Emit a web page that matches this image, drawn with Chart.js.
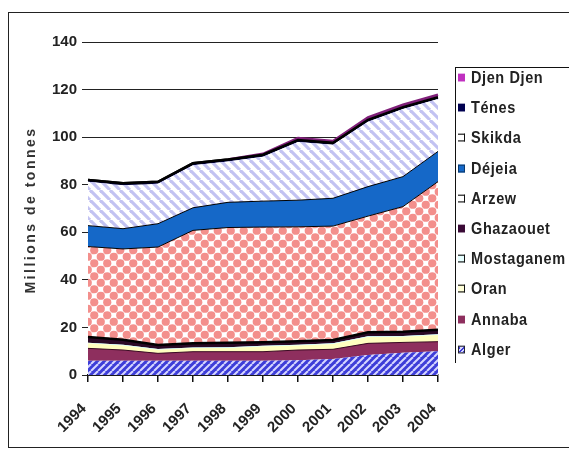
<!DOCTYPE html>
<html>
<head>
<meta charset="utf-8">
<script src="https://cdn.jsdelivr.net/npm/chart.js@4/dist/chart.umd.min.js"></script>
<style>
  html, body { margin:0; padding:0; background:#fff; }
  #wrap { position:relative; width:569px; height:451px; overflow:hidden; background:#fff; }
  #c { position:absolute; left:0; top:0; }
  #frame { position:absolute; left:8px; top:12px; width:700px; height:436px; border:1.5px solid #222; box-sizing:border-box; pointer-events:none; }
  #legend { position:absolute; left:455px; top:67px; width:200px; height:296px; border-top:1.5px solid #111; border-left:1.5px solid #111; box-sizing:border-box; }
  .row { position:absolute; left:0; height:20px; line-height:20px; font-family:'Liberation Sans',Arial,sans-serif; font-weight:bold; font-size:14.5px; letter-spacing:0.6px; color:#222; white-space:nowrap; transform-origin:0 50%; transform:scaleY(1.12); }
  .mk { position:absolute; left:2px; top:7px; width:7px; height:7px; box-sizing:border-box; }
  .tx { position:absolute; left:15px; top:0; }
  #ytitle { position:absolute; left:30px; top:210px; transform:translate(-50%,-50%) rotate(-90deg); font-family:'Liberation Sans',Arial,sans-serif; font-weight:bold; font-size:14px; letter-spacing:2.5px; color:#333; white-space:nowrap; }
</style>
</head>
<body>
<div id="wrap">
  <canvas id="c" width="569" height="451"></canvas>
  <div id="frame"></div>
  <div id="ytitle">Millions de tonnes</div>
  <div id="legend"></div>
</div>
<script>
// ---- data (millions de tonnes) ----
const years = ['1994','1995','1996','1997','1998','1999','2000','2001','2002','2003','2004'];
const alger      = [6, 6, 6, 6, 6, 6, 6.2, 6.7, 8.4, 9.4, 10];
const annaba     = [5.2, 4.5, 3.1, 3.8, 3.8, 3.8, 4.3, 4.1, 4.9, 4.3, 4.0];
const oran       = [2.1, 1.9, 1.5, 1.5, 1.6, 2.2, 1.9, 2.2, 2.7, 2.4, 2.8];
const mostaganem = [0.3, 0.3, 0.3, 0.3, 0.3, 0.3, 0.3, 0.3, 0.3, 0.3, 0.3];
const ghazaouet  = [2.4, 2.1, 1.7, 1.8, 1.9, 1.5, 1.5, 1.4, 1.7, 1.8, 1.9];
const arzew      = [38, 38.2, 41.2, 47.4, 48.4, 48.4, 48.1, 47.9, 48.8, 52.6, 62.3];
const dejeia     = [8.8, 8.5, 9.8, 9.5, 10.6, 10.9, 11.2, 11.7, 12.4, 12.6, 12.7];
const skikda     = [18.4, 18.3, 16.8, 17.9, 17.2, 18.7, 24.5, 22.5, 27.3, 28.4, 22.0];
const tenes      = [0.8, 0.8, 0.8, 0.8, 0.8, 0.8, 0.8, 0.8, 0.8, 0.8, 0.8];
const djenDjen   = [0, 0, 0, 0, 0, 0.4, 0.8, 0.8, 1.0, 1.0, 1.0];
const yTicks     = [0, 20, 40, 60, 80, 100, 120, 140];
const yTitle     = 'Millions de tonnes';

// ---- patterns ----
function mkPattern(size, draw) {
  const c = document.createElement('canvas');
  c.width = size; c.height = size;
  const g = c.getContext('2d');
  draw(g, size);
  return document.getElementById('c').getContext('2d').createPattern(c, 'repeat');
}
const algerPat = mkPattern(7, (g, s) => {
  g.fillStyle = '#3d3dd8'; g.fillRect(0, 0, s, s);
  g.strokeStyle = '#d6d6ff'; g.lineWidth = 2;
  for (const o of [-s, 0, s]) { g.beginPath(); g.moveTo(o, s); g.lineTo(o + s, 0); g.stroke(); }
});
const skikdaPat = mkPattern(10, (g, s) => {
  g.fillStyle = '#ffffff'; g.fillRect(0, 0, s, s);
  g.strokeStyle = '#c2c2f2'; g.lineWidth = 3.2;
  for (const o of [-s, 0, s]) { g.beginPath(); g.moveTo(o, 0); g.lineTo(o + s, s); g.stroke(); }
});
const arzewPat = mkPattern(13, (g, s) => {
  g.fillStyle = '#ffffff'; g.fillRect(0, 0, s, s);
  g.fillStyle = '#f38f8c';
  const r = 4.1;
  const h = s / 4, k = 3 * s / 4;
  for (const [x, y] of [[h, h], [k, k], [h + s, h], [h, h + s], [k - s, k], [k, k - s], [k - s, k - s], [h + s, h + s]]) {
    g.beginPath(); g.arc(x, y, r, 0, Math.PI * 2); g.fill();
  }
});

const series = [
  { label: 'Alger',      data: alger,      bg: algerPat,  bc: 'transparent', bw: 0 },
  { label: 'Annaba',     data: annaba,     bg: '#8e2f5e', bc: '#3a0a22', bw: 1 },
  { label: 'Oran',       data: oran,       bg: '#ffffc0', bc: 'transparent', bw: 0 },
  { label: 'Mostaganem', data: mostaganem, bg: '#ccffff', bc: 'transparent', bw: 0 },
  { label: 'Ghazaouet',  data: ghazaouet,  bg: '#2a0a26', bc: '#000000', bw: 2.5 },
  { label: 'Arzew',      data: arzew,      bg: arzewPat,  bc: '#000000', bw: 1 },
  { label: 'Déjeia',     data: dejeia,     bg: '#1568c8', bc: '#000000', bw: 1 },
  { label: 'Skikda',     data: skikda,     bg: skikdaPat, bc: 'transparent', bw: 0 },
  { label: 'Ténes',      data: tenes,      bg: '#000040', bc: '#000000', bw: 2.5 },
  { label: 'Djen Djen',  data: djenDjen,   bg: '#c030c0', bc: '#80207a', bw: 2.5 }
];

const datasets = series.map((s, i) => {
  const d = {
    label: s.label, data: s.data, backgroundColor: s.bg, borderColor: s.bc,
    borderWidth: s.bw || 0.01, fill: i === 0 ? 'origin' : '-1',
    pointRadius: 0, pointHoverRadius: 0, tension: 0
  };
  if (s.label === 'Djen Djen') {
    d.segment = { borderColor: ctx => (djenDjen[ctx.p0DataIndex] === 0 && djenDjen[ctx.p1DataIndex] === 0) ? '#111111' : '#80207a' };
  }
  return d;
});

const FONT = "'Liberation Sans',Arial,sans-serif";

new Chart(document.getElementById('c'), {
  type: 'line',
  data: { labels: years, datasets },
  options: {
    responsive: false, animation: false, events: [],
    layout: { padding: { left: 16, top: 42, right: 131, bottom: 0 } },
    plugins: { legend: { display: false }, tooltip: { enabled: false } },
    scales: {
      x: {
        type: 'category', offset: false,
        grid: { drawOnChartArea: false, drawTicks: true, tickLength: 7, color: '#111', lineWidth: 1.5 },
        border: { display: true, color: '#111', width: 1.5 },
        ticks: { autoSkip: false, minRotation: 45, maxRotation: 45, padding: 18, labelOffset: -4,
                 color: '#222', font: { family: FONT, size: 15, weight: 'bold' } },
        afterFit: s => { s.height = 451 - 375; }
      },
      y: {
        stacked: true, min: 0, max: 140,
        afterBuildTicks: s => { s.ticks = yTicks.map(v => ({ value: v })); },
        grid: { color: '#222', lineWidth: 1, tickLength: 6, drawTicks: true },
        border: { display: false },
        ticks: { padding: 5, color: '#222', font: { family: FONT, size: 15, weight: 'bold' } },
        afterFit: s => { s.width = 88 - 16; }
      }
    }
  }
});

// ---- legend (reverse of stacking order) ----
const legendMarks = {
  'Djen Djen': 'background:#c030c0;',
  'Ténes': 'background:#000050;',
  'Skikda': 'background:#fff;border:1.5px solid #111;border-left:none;',
  'Déjeia': 'background:#1568c8;border:1px solid #0a3a70;',
  'Arzew': 'background:#fff;border:1.5px solid #111;border-left:none;',
  'Ghazaouet': 'background:#3a0a36;',
  'Mostaganem': 'background:#e6ffff;border:1.5px solid #111;border-left:none;',
  'Oran': 'background:#ffffd8;border:1.5px solid #111;border-left:none;',
  'Annaba': 'background:#8e2f5e;',
  'Alger': 'background:repeating-linear-gradient(135deg,#3d3dd8 0 1.5px,#d6d6ff 1.5px 3px);border:1px solid #223;'
};
const lg = document.getElementById('legend');
series.slice().reverse().forEach((s, i) => {
  const r = document.createElement('div');
  r.className = 'row';
  r.style.top = (76 - 67 + 30.2 * i - 10) + 'px';
  r.innerHTML = '<div class="mk" style="' + legendMarks[s.label] + '"></div><div class="tx"></div>';
  r.querySelector('.tx').textContent = s.label;
  lg.appendChild(r);
});
document.getElementById('ytitle').textContent = yTitle;
</script>
</body>
</html>
